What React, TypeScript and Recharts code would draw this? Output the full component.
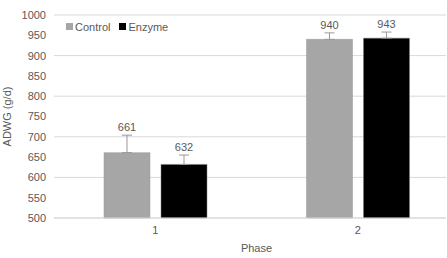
import { Bar, BarChart, CartesianGrid, ErrorBar, LabelList, XAxis, YAxis } from 'recharts';

const phases = ['1', '2'];
const control = [661, 940];
const enzyme = [632, 943];
const controlErr = [43, 16];
const enzymeErr = [23, 15];
const yTicks = [500, 550, 600, 650, 700, 750, 800, 850, 900, 950, 1000];

const data = phases.map((p, i) => ({
  phase: p,
  control: control[i],
  enzyme: enzyme[i],
  controlErr: [0, controlErr[i]],
  enzymeErr: [0, enzymeErr[i]],
}));

const FONT = '"Liberation Sans", Arial, sans-serif';
const TEXT = '#595959';

// value label sits just above the (one-sided) error bar
const makeLabel = (errs: number[]) => (props: any) => {
  const vb = props.viewBox ?? props;
  const { index, value } = props;
  const x = Number(vb.x);
  const h = Number(vb.height);
  const yTop = Math.min(Number(vb.y), Number(vb.y) + h);
  const pxPerUnit = Math.abs(h) / (Number(value) - 500);
  const top = yTop - errs[index] * pxPerUnit;
  return (
    <text x={x + Number(vb.width) / 2} y={top - 4} textAnchor="middle" fontSize={11} fill={TEXT} fontFamily={FONT}>
      {value}
    </text>
  );
};

function LegendBox() {
  const item = (color: string, name: string) => (
    <span style={{ display: 'inline-flex', alignItems: 'center', marginRight: 9 }}>
      <span style={{ width: 7, height: 7, background: color, display: 'inline-block', marginRight: 2 }} />
      {name}
    </span>
  );
  return (
    <div style={{ position: 'absolute', left: 66, top: 19, fontSize: 11, fontFamily: FONT, color: TEXT, lineHeight: '14px' }}>
      {item('#a6a6a6', 'Control')}
      {item('#000000', 'Enzyme')}
    </div>
  );
}

export default function App() {
  return (
    <div style={{ position: 'absolute', left: 0, top: 0, width: 446, height: 258, overflow: 'hidden', background: '#fff' }}>
      <BarChart
        width={460}
        height={258}
        data={data}
        margin={{ top: 15, right: 1, left: 0, bottom: 0 }}
        barGap={11}
        barSize={46}
        style={{ fontFamily: FONT }}
      >
        <CartesianGrid vertical={false} stroke="#d9d9d9" />
        <XAxis
          dataKey="phase"
          height={40}
          axisLine={{ stroke: '#d9d9d9' }}
          tickLine={false}
          tick={{ fontSize: 11, fill: TEXT }}
          label={{ value: 'Phase', position: 'insideBottom', offset: 6, fontSize: 11, fill: TEXT }}
        />
        <YAxis
          domain={[500, 1000]}
          ticks={yTicks}
          width={54}
          axisLine={false}
          tickLine={false}
          tick={{ fontSize: 11, fill: TEXT }}
          label={{ value: 'ADWG (g/d)', angle: -90, position: 'insideLeft', offset: 7, fontSize: 11, fill: TEXT, style: { textAnchor: 'middle' } }}
        />
        <Bar dataKey="control" fill="#a6a6a6" stroke="#999999" strokeWidth={0.5} isAnimationActive={false}>
          <ErrorBar dataKey="controlErr" width={5} stroke="#999999" strokeWidth={1} />
          <LabelList dataKey="control" content={makeLabel(controlErr)} />
        </Bar>
        <Bar dataKey="enzyme" fill="#000000" stroke="#7f7f7f" strokeWidth={0.5} isAnimationActive={false}>
          <ErrorBar dataKey="enzymeErr" width={5} stroke="#999999" strokeWidth={1} />
          <LabelList dataKey="enzyme" content={makeLabel(enzymeErr)} />
        </Bar>
      </BarChart>
      <LegendBox />
    </div>
  );
}
